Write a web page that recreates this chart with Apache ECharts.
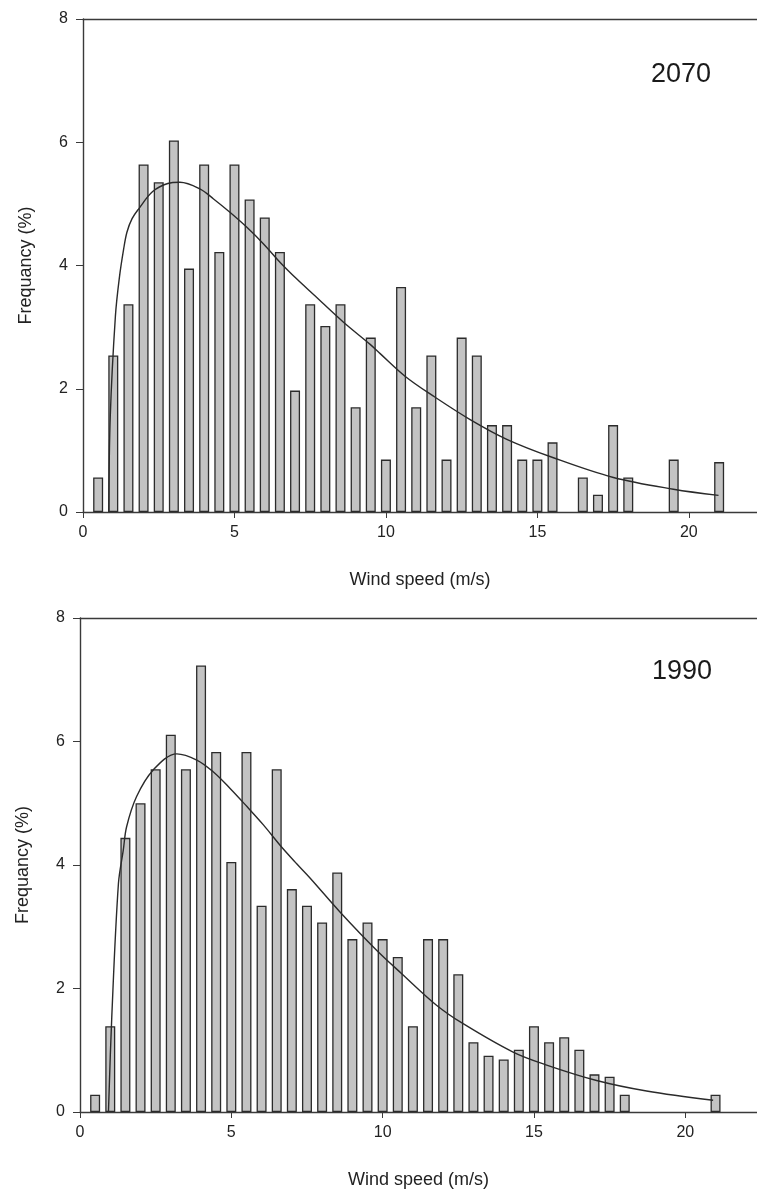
<!DOCTYPE html>
<html style="height: 100%; margin: 0; padding: 0;">
<head>
    <meta charset="utf-8">
    <title>Wind speed frequency</title>
    <script src="https://cdn.jsdelivr.net/npm/echarts@6/dist/echarts.min.js"></script>
    <style>
        body, html {
            height: 100%;
            margin: 0;
            padding: 0;
            background-color: #ffffff;
        }
        #main {
            width: 757px;
            height: 1194px;
        }
    </style>
</head>
<body>
<div id="main"></div>
<script type="text/javascript">
    // 2070 histogram (bins with no data are left out)
    var speeds2070 = [0.5, 1, 1.5, 2, 2.5, 3, 3.5, 4, 4.5, 5, 5.5, 6, 6.5, 7, 7.5, 8, 8.5, 9, 9.5, 10,
        10.5, 11, 11.5, 12, 12.5, 13, 13.5, 14, 14.5, 15, 15.5, 16.5, 17, 17.5, 18, 19.5, 21];
    var freq2070 = [0.56, 2.54, 3.37, 5.64, 5.35, 6.03, 3.95, 5.64, 4.22, 5.64, 5.07, 4.78, 4.22, 1.97, 3.37, 3.02, 3.37, 1.70, 2.83, 0.85,
        3.65, 1.70, 2.54, 0.85, 2.83, 2.54, 1.41, 1.41, 0.85, 0.85, 1.13, 0.56, 0.28, 1.41, 0.56, 0.85, 0.81];

    // 2070 fitted curve
    var fitX2070 = [0.85, 0.9, 1.07, 1.2, 1.34, 1.45, 1.62, 1.84, 2.3, 2.8, 3.2, 3.87, 4.31, 4.86, 5.41, 5.96, 6.51,
        7.06, 7.61, 8.6, 9.48, 9.81, 10.64, 11.57, 12.78, 13.99, 15.53, 17.51, 19.49, 20.98];
    var fitY2070 = [0, 1.55, 3.18, 3.8, 4.26, 4.54, 4.76, 4.92, 5.2, 5.33, 5.35, 5.24, 5.08, 4.86, 4.62, 4.35, 4.05,
        3.78, 3.53, 3.08, 2.72, 2.57, 2.2, 1.88, 1.5, 1.18, 0.88, 0.56, 0.37, 0.27];

    // 1990 histogram
    var speeds1990 = [0.5, 1, 1.5, 2, 2.5, 3, 3.5, 4, 4.5, 5, 5.5, 6, 6.5, 7, 7.5, 8, 8.5, 9, 9.5, 10,
        10.5, 11, 11.5, 12, 12.5, 13, 13.5, 14, 14.5, 15, 15.5, 16, 16.5, 17, 17.5, 18, 21];
    var freq1990 = [0.28, 1.39, 4.44, 5.0, 5.55, 6.11, 5.55, 7.23, 5.83, 4.05, 5.83, 3.34, 5.55, 3.61, 3.34, 3.07, 3.88, 2.80, 3.07, 2.80,
        2.51, 1.39, 2.80, 2.80, 2.23, 1.13, 0.91, 0.85, 1.01, 1.39, 1.13, 1.21, 1.01, 0.61, 0.57, 0.28, 0.28];

    // 1990 fitted curve
    var fitX1990 = [0.94, 1.05, 1.27, 1.43, 1.54, 1.87, 2.42, 3.2, 3.86, 4.4, 4.96, 5.51, 6.06, 6.61, 7.16, 7.6,
        8.59, 9.8, 10.63, 11.78, 12.66, 14.31, 15.42, 17.07, 18.72, 20.92];
    var fitY1990 = [0, 1.54, 3.7, 4.24, 4.62, 5.11, 5.54, 5.8, 5.7, 5.51, 5.24, 4.95, 4.65, 4.32, 4.02, 3.79,
        3.24, 2.62, 2.24, 1.73, 1.43, 0.97, 0.76, 0.51, 0.34, 0.19];

    var panelLabels = ['2070', '1990'];
    var xTitle = 'Wind speed (m/s)';
    var yTitle = 'Frequancy (%)';

    function pairs(xs, ys) {
        return xs.map(function (x, i) { return [x, ys[i]]; });
    }

    var font = 'Liberation Sans, Arial, sans-serif';
    var axisColor = '#3a3a3a';

    function bottomAxis(idx, max) {
        return {
            type: 'value', gridIndex: idx, position: 'bottom',
            min: 0, max: max, interval: 5,
            name: xTitle, nameLocation: 'middle', nameGap: 59,
            nameTextStyle: { color: '#222', fontSize: 18, fontFamily: font },
            axisLine: { show: true, lineStyle: { color: axisColor, width: 1.4 } },
            axisTick: { show: true, length: 6, inside: false, lineStyle: { color: axisColor } },
            axisLabel: { color: '#222', fontSize: 16, fontFamily: font, margin: 13, showMaxLabel: false },
            splitLine: { show: false }
        };
    }
    function topAxis(idx, max) {
        // only the frame line across the top
        return {
            type: 'value', gridIndex: idx, position: 'top', min: 0, max: max,
            axisLine: { show: true, lineStyle: { color: axisColor, width: 1.4 } },
            axisTick: { show: false }, axisLabel: { show: false }, splitLine: { show: false }
        };
    }
    function leftAxis(idx) {
        return {
            type: 'value', gridIndex: idx, min: 0, max: 8, interval: 2,
            name: yTitle, nameLocation: 'middle', nameGap: 48,
            nameTextStyle: { color: '#222', fontSize: 18, fontFamily: font },
            axisLine: { show: true, lineStyle: { color: axisColor, width: 1.4 } },
            axisTick: { show: true, length: 7, lineStyle: { color: axisColor } },
            axisLabel: { color: '#222', fontSize: 16, fontFamily: font, margin: 15 },
            splitLine: { show: false }
        };
    }

    var barStyle = { color: '#c3c3c3', borderColor: '#2b2b2b', borderWidth: 1.3 };
    var curveStyle = { color: '#2a2a2a', width: 1.4 };

    var myChart = echarts.init(document.getElementById('main'));
    var option = {
        animation: false,
        backgroundColor: '#ffffff',
        grid: [
            { left: 83, top: 19, width: 674, height: 493 },
            { left: 80, top: 618, width: 677, height: 494 }
        ],
        xAxis: [bottomAxis(0, 22.25), topAxis(0, 22.25), bottomAxis(1, 22.37), topAxis(1, 22.37)],
        yAxis: [leftAxis(0), leftAxis(1)],
        graphic: [
            { type: 'text', left: 651, top: 61, style: { text: panelLabels[0], fontSize: 27, fontFamily: font, fill: '#1a1a1a' } },
            { type: 'text', left: 652, top: 658, style: { text: panelLabels[1], fontSize: 27, fontFamily: font, fill: '#1a1a1a' } }
        ],
        series: [
            {
                type: 'bar', xAxisIndex: 0, yAxisIndex: 0, barWidth: 10,
                data: pairs(speeds2070, freq2070), itemStyle: barStyle
            },
            {
                type: 'line', xAxisIndex: 0, yAxisIndex: 0, smooth: 0.35, symbol: 'none',
                data: pairs(fitX2070, fitY2070), lineStyle: curveStyle, z: 5
            },
            {
                type: 'bar', xAxisIndex: 2, yAxisIndex: 1, barWidth: 10,
                data: pairs(speeds1990, freq1990), itemStyle: barStyle
            },
            {
                type: 'line', xAxisIndex: 2, yAxisIndex: 1, smooth: 0.35, symbol: 'none',
                data: pairs(fitX1990, fitY1990), lineStyle: curveStyle, z: 5
            }
        ]
    };
    myChart.setOption(option);
</script>
</body>
</html>
